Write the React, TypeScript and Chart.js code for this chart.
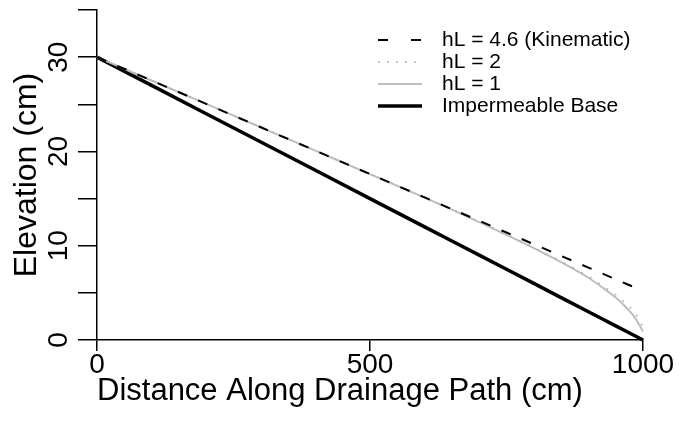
import React, { useEffect, useRef } from 'react';
import { Chart, registerables } from 'chart.js';

Chart.register(...registerables);

// Distance along the drainage path (cm)
const distance = [0, 100, 200, 300, 400, 500, 600, 650, 700, 750, 800, 850, 900, 925, 950, 970, 985, 1000];

// Water-table elevation (cm) for each solution
const kinematic = [30, 27.52, 25.04, 22.56, 20.08, 17.6, 15.12, 13.88, 12.64, 11.4, 10.16, 8.92, 7.68, 7.06, 6.44, 5.94, 5.57, 5.2];
const hL2 = [30, 27.52, 25.04, 22.56, 20.08, 17.6, 15.1, 13.85, 12.55, 11.2, 9.8, 8.35, 6.75, 5.8, 4.8, 3.8, 2.9, 1.4];
const hL1 = [30, 27.52, 25.04, 22.56, 20.08, 17.6, 15.1, 13.82, 12.5, 11.15, 9.75, 8.25, 6.6, 5.6, 4.5, 3.4, 2.4, 0.9];
const base = [30, 27, 24, 21, 18, 15, 12, 10.5, 9, 7.5, 6, 4.5, 3, 2.25, 1.5, 0.9, 0.45, 0];

const seriesLabels = ['hL = 4.6 (Kinematic)', 'hL = 2', 'hL = 1', 'Impermeable Base'];

const xTicks = [0, 500, 1000];
const yTicks = [0, 5, 10, 15, 20, 25, 30, 35];
const yLabelled = [0, 10, 20, 30];

const FONT = "'Liberation Sans', Arial, Helvetica, sans-serif";

const toPoints = (ys: number[]) => distance.map((x, i) => ({ x, y: ys[i] }));

// legend samples: one row per series, line sample then label
const legendDash = [[10, 23], [2, 7], [], []];
const lineLegend = {
  id: 'lineLegend',
  afterDraw(chart: any) {
    const { ctx } = chart;
    const lineStart = 378;
    const lineEnd = 422;
    const textX = 442;
    const rowTop = 40;
    const rowGap = 22;
    ctx.save();
    chart.data.datasets.forEach((ds: any, i: number) => {
      const y = rowTop + i * rowGap;
      ctx.beginPath();
      ctx.setLineDash(legendDash[i]);
      ctx.strokeStyle = ds.borderColor;
      ctx.lineWidth = ds.borderWidth;
      ctx.moveTo(lineStart, y);
      ctx.lineTo(lineEnd, y);
      ctx.stroke();
      ctx.setLineDash([]);
      ctx.fillStyle = '#000';
      ctx.font = `21px ${FONT}`;
      ctx.textBaseline = 'middle';
      ctx.textAlign = 'left';
      ctx.fillText(ds.label, textX, y);
    });
    ctx.restore();
  },
};

export default function App() {
  const canvasRef = useRef<HTMLCanvasElement | null>(null);

  useEffect(() => {
    const canvas = canvasRef.current;
    if (!canvas) return;
    const chart = new Chart(canvas, {
      type: 'line',
      data: {
        datasets: [
          {
            label: seriesLabels[0],
            data: toPoints(kinematic),
            borderColor: '#000000',
            borderWidth: 2,
            borderDash: [10, 12],
            pointRadius: 0,
            clip: false,
          },
          {
            label: seriesLabels[1],
            data: toPoints(hL2),
            borderColor: '#b4b4b4',
            borderWidth: 1.5,
            borderDash: [2, 8],
            pointRadius: 0,
            cubicInterpolationMode: 'monotone',
            clip: false,
          },
          {
            label: seriesLabels[2],
            data: toPoints(hL1),
            borderColor: '#bebebe',
            borderWidth: 2,
            pointRadius: 0,
            cubicInterpolationMode: 'monotone',
            clip: false,
          },
          {
            label: seriesLabels[3],
            data: toPoints(base),
            borderColor: '#000000',
            borderWidth: 3.5,
            pointRadius: 0,
            clip: false,
          },
        ],
      },
      options: {
        responsive: false,
        animation: false,
        events: [],
        layout: { padding: { top: 10, right: 39, left: 0, bottom: 0 } },
        plugins: {
          legend: { display: false },
          tooltip: { enabled: false },
        },
        scales: {
          x: {
            type: 'linear',
            position: 'bottom',
            min: 0,
            max: 1000,
            afterBuildTicks: (scale: any) => {
              scale.ticks = xTicks.map((value) => ({ value }));
            },
            afterFit: (scale: any) => {
              scale.height = 90;
              scale.paddingLeft = 0;
              scale.paddingRight = 0;
            },
            ticks: {
              color: '#000',
              font: { family: FONT, size: 28 },
              padding: -3,
              maxRotation: 0,
              minRotation: 0,
              callback: (value: any) => String(value),
            },
            grid: {
              display: true,
              drawOnChartArea: false,
              drawTicks: true,
              tickLength: 11,
              color: '#000',
              lineWidth: 1.5,
            },
            border: { display: true, color: '#000', width: 1.5 },
            title: {
              display: true,
              text: 'Distance Along Drainage Path (cm)',
              align: 'start',
              color: '#000',
              font: { family: FONT, size: 31 },
              padding: { top: 0, bottom: 20 },
            },
          },
          y: {
            type: 'linear',
            position: 'left',
            min: 0,
            max: 35,
            afterBuildTicks: (scale: any) => {
              scale.ticks = yTicks.map((value) => ({ value }));
            },
            afterFit: (scale: any) => {
              scale.width = 97;
              scale.paddingTop = 0;
              scale.paddingBottom = 0;
            },
            ticks: {
              color: '#000',
              font: { family: FONT, size: 28 },
              padding: 3,
              minRotation: 90,
              maxRotation: 90,
              crossAlign: 'center',
              callback: (value: any) => (yLabelled.includes(Number(value)) ? String(value) : ''),
            },
            grid: {
              display: true,
              drawOnChartArea: false,
              drawTicks: true,
              tickLength: 19,
              color: '#000',
              lineWidth: 1.5,
            },
            border: { display: true, color: '#000', width: 1.5 },
            title: {
              display: true,
              text: 'Elevation (cm)',
              color: '#000',
              font: { family: FONT, size: 32 },
              padding: { top: 8, bottom: 0 },
            },
          },
        },
      },
      plugins: [lineLegend],
    } as any);
    return () => chart.destroy();
  }, []);

  return (
    <div style={{ position: 'fixed', left: 0, top: 0, width: 682, height: 430, background: '#fff' }}>
      <canvas ref={canvasRef} width={682} height={430} style={{ display: 'block' }} />
    </div>
  );
}
